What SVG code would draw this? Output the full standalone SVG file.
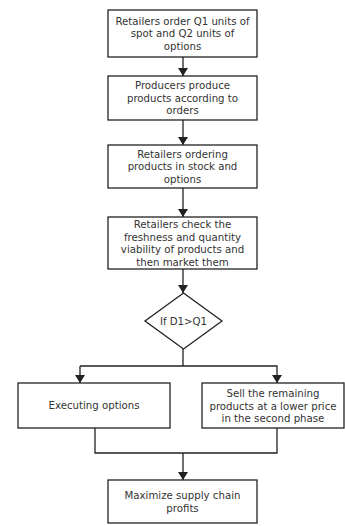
<svg xmlns="http://www.w3.org/2000/svg" width="345" height="526" viewBox="0 0 345 526">
<style>
.box{fill:#fff;stroke:#222;stroke-width:1.3}
.ln{fill:none;stroke:#222;stroke-width:1.3}
text{font-family:"DejaVu Sans","Noto Sans",sans-serif;font-size:10.2px;fill:#333;text-anchor:middle;dominant-baseline:central}
</style>
<defs>
<marker id="ah" viewBox="0 0 8 10" refX="8" refY="5" markerWidth="8" markerHeight="10" markerUnits="userSpaceOnUse" orient="auto">
<path d="M0,0 L8,5 L0,10 Z" fill="#222"/>
</marker>
</defs>
<rect width="345" height="526" fill="#fff"/>
<g id="connectors">
<line class="ln" x1="183" y1="57" x2="183" y2="76" marker-end="url(#ah)"/>
<line class="ln" x1="183" y1="120" x2="183" y2="145" marker-end="url(#ah)"/>
<line class="ln" x1="183" y1="188" x2="183" y2="217" marker-end="url(#ah)"/>
<line class="ln" x1="183" y1="269" x2="183" y2="293" marker-end="url(#ah)"/>
<line class="ln" x1="183" y1="349" x2="183" y2="366"/>
<polyline class="ln" points="80,366 277,366 277,383" marker-end="url(#ah)"/>
<line class="ln" x1="80" y1="366" x2="80" y2="383" marker-end="url(#ah)"/>
<polyline class="ln" points="95,428 95,453 277,453 277,428"/>
<line class="ln" x1="183" y1="453" x2="183" y2="480" marker-end="url(#ah)"/>
</g>
<g id="n1">
<rect class="box" x="108" y="10" width="149" height="47"/>
<text x="182.5" y="21">Retailers order Q1 units of</text>
<text x="182.5" y="33.5">spot and Q2 units of</text>
<text x="182.5" y="46">options</text>
</g>
<g id="n2">
<rect class="box" x="108" y="76" width="149" height="44"/>
<text x="182.5" y="85.5">Producers produce</text>
<text x="182.5" y="98">products according to</text>
<text x="182.5" y="110.5">orders</text>
</g>
<g id="n3">
<rect class="box" x="108" y="145" width="149" height="43"/>
<text x="182.5" y="154">Retailers ordering</text>
<text x="182.5" y="166.5">products in stock and</text>
<text x="182.5" y="179">options</text>
</g>
<g id="n4">
<rect class="box" x="108" y="217" width="149" height="52"/>
<text x="182.5" y="224.5">Retailers check the</text>
<text x="182.5" y="237">freshness and quantity</text>
<text x="182.5" y="249.5">viability of products and</text>
<text x="182.5" y="262">then market them</text>
</g>
<g id="n5">
<polygon class="box" points="183.5,293 222,321 183.5,349 145,321"/>
<text x="183.5" y="321">If D1&gt;Q1</text>
</g>
<g id="n6">
<rect class="box" x="18" y="383" width="152" height="45"/>
<text x="94" y="405.5">Executing options</text>
</g>
<g id="n7">
<rect class="box" x="202" y="383" width="142" height="45"/>
<text x="273" y="393.5">Sell the remaining</text>
<text x="273" y="406">products at a lower price</text>
<text x="273" y="418.5">in the second phase</text>
</g>
<g id="n8">
<rect class="box" x="108" y="480" width="149" height="43"/>
<text x="182.5" y="495">Maximize supply chain</text>
<text x="182.5" y="508">profits</text>
</g>
</svg>
